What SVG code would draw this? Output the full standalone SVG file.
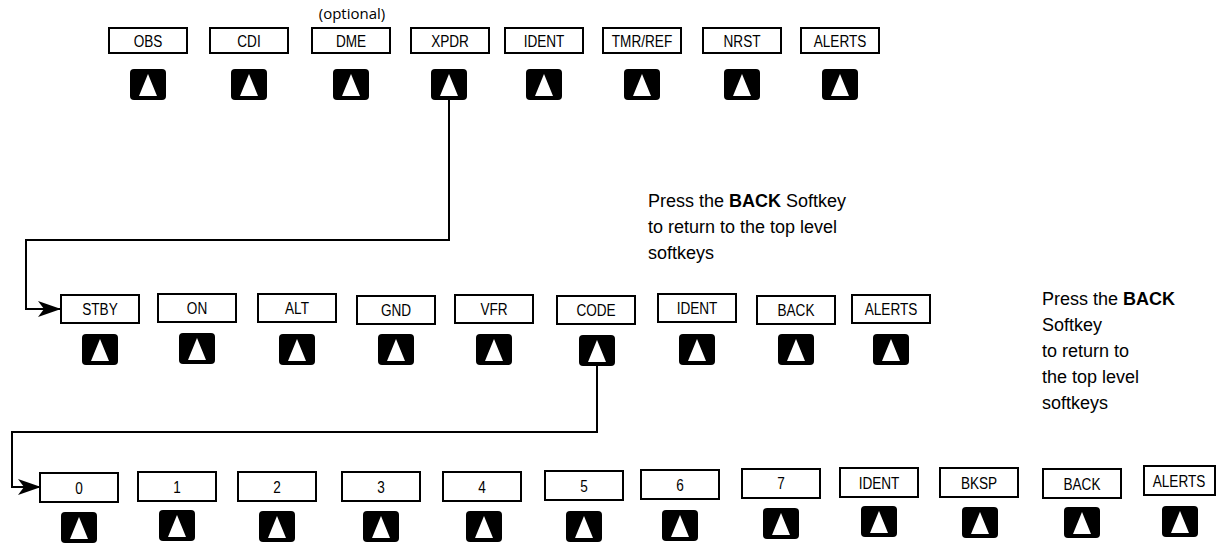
<svg xmlns="http://www.w3.org/2000/svg" xmlns:xlink="http://www.w3.org/1999/xlink" width="1217" height="546" viewBox="0 0 1217 546">
<style>
.box{fill:#fff;stroke:#000;stroke-width:2}
.lbl{font-family:"Liberation Sans",Arial,sans-serif;font-size:17px;text-anchor:middle;fill:#000}
.note{font-family:"Liberation Sans",Arial,sans-serif;font-size:18px;fill:#000}
.opt{font-family:"Open Sans",sans-serif;font-size:15px;text-anchor:middle;fill:#000}
.wire{fill:none;stroke:#000;stroke-width:2}
</style>
<defs>
<g id="key"><rect x="-18" y="0" width="36" height="31" rx="4" fill="#000"/><polygon points="0,5 -9,27 9,27" fill="#fff"/></g>
<marker id="arr" markerWidth="24" markerHeight="16" refX="22" refY="8" orient="auto" markerUnits="userSpaceOnUse"><path d="M0,0 L23,8 L0,16 L6,8 Z" fill="#000"/></marker>
</defs>
<rect width="1217" height="546" fill="#fff"/>
<g id="connectors">
<path class="wire" d="M449,100 V240 H26 V309 H60" marker-end="url(#arr)"/>
<path class="wire" d="M597,366 V432 H12 V487 H40" marker-end="url(#arr)"/>
</g>
<text class="opt" x="352" y="19">(optional)</text>
<g id="top-obs"><rect class="box" x="109" y="28" width="78" height="25"/><text class="lbl" transform="matrix(0.8 0 0 1 148 47)">OBS</text><use xlink:href="#key" x="148" y="69"/></g>
<g id="top-cdi"><rect class="box" x="210" y="28" width="78" height="25"/><text class="lbl" transform="matrix(0.8 0 0 1 249 47)">CDI</text><use xlink:href="#key" x="249" y="69"/></g>
<g id="top-dme"><rect class="box" x="312" y="28" width="78" height="25"/><text class="lbl" transform="matrix(0.8 0 0 1 351 47)">DME</text><use xlink:href="#key" x="351" y="69"/></g>
<g id="top-xpdr"><rect class="box" x="411" y="28" width="78" height="25"/><text class="lbl" transform="matrix(0.8 0 0 1 450 47)">XPDR</text><use xlink:href="#key" x="449" y="69"/></g>
<g id="top-ident"><rect class="box" x="505" y="28" width="78" height="25"/><text class="lbl" transform="matrix(0.8 0 0 1 544 47)">IDENT</text><use xlink:href="#key" x="544" y="69"/></g>
<g id="top-tmrref"><rect class="box" x="603" y="28" width="78" height="25"/><text class="lbl" transform="matrix(0.8 0 0 1 642 47)">TMR/REF</text><use xlink:href="#key" x="642" y="69"/></g>
<g id="top-nrst"><rect class="box" x="703" y="28" width="78" height="25"/><text class="lbl" transform="matrix(0.8 0 0 1 742 47)">NRST</text><use xlink:href="#key" x="742" y="69"/></g>
<g id="top-alerts"><rect class="box" x="801" y="28" width="78" height="25"/><text class="lbl" transform="matrix(0.8 0 0 1 840 47)">ALERTS</text><use xlink:href="#key" x="840" y="69"/></g>

<g id="mid-stby"><rect class="box" x="61" y="295" width="78" height="28"/><text class="lbl" transform="matrix(0.8 0 0 1 100 315)">STBY</text><use xlink:href="#key" x="100" y="334"/></g>
<g id="mid-on"><rect class="box" x="158" y="294" width="78" height="28"/><text class="lbl" transform="matrix(0.8 0 0 1 197 314)">ON</text><use xlink:href="#key" x="197" y="333"/></g>
<g id="mid-alt"><rect class="box" x="258" y="294" width="78" height="28"/><text class="lbl" transform="matrix(0.8 0 0 1 297 314)">ALT</text><use xlink:href="#key" x="297" y="334"/></g>
<g id="mid-gnd"><rect class="box" x="357" y="296" width="78" height="28"/><text class="lbl" transform="matrix(0.8 0 0 1 396 316)">GND</text><use xlink:href="#key" x="396" y="334"/></g>
<g id="mid-vfr"><rect class="box" x="455" y="295" width="78" height="28"/><text class="lbl" transform="matrix(0.8 0 0 1 494 315)">VFR</text><use xlink:href="#key" x="494" y="334"/></g>
<g id="mid-code"><rect class="box" x="557" y="296" width="78" height="28"/><text class="lbl" transform="matrix(0.8 0 0 1 596 316)">CODE</text><use xlink:href="#key" x="597" y="335"/></g>
<g id="mid-ident"><rect class="box" x="658" y="294" width="78" height="28"/><text class="lbl" transform="matrix(0.8 0 0 1 697 314)">IDENT</text><use xlink:href="#key" x="697" y="334"/></g>
<g id="mid-back"><rect class="box" x="757" y="296" width="78" height="28"/><text class="lbl" transform="matrix(0.8 0 0 1 796 316)">BACK</text><use xlink:href="#key" x="796" y="334"/></g>
<g id="mid-alerts"><rect class="box" x="852" y="295" width="78" height="28"/><text class="lbl" transform="matrix(0.8 0 0 1 891 315)">ALERTS</text><use xlink:href="#key" x="891" y="334"/></g>

<g id="bot-0"><rect class="box" x="40" y="473" width="78" height="29"/><text class="lbl" transform="matrix(0.8 0 0 1 79 494)">0</text><use xlink:href="#key" x="79" y="512"/></g>
<g id="bot-1"><rect class="box" x="138" y="472" width="78" height="29"/><text class="lbl" transform="matrix(0.8 0 0 1 177 493)">1</text><use xlink:href="#key" x="177" y="510"/></g>
<g id="bot-2"><rect class="box" x="238" y="472" width="78" height="29"/><text class="lbl" transform="matrix(0.8 0 0 1 277 493)">2</text><use xlink:href="#key" x="277" y="511"/></g>
<g id="bot-3"><rect class="box" x="342" y="472" width="78" height="29"/><text class="lbl" transform="matrix(0.8 0 0 1 381 493)">3</text><use xlink:href="#key" x="381" y="511"/></g>
<g id="bot-4"><rect class="box" x="443" y="472" width="78" height="29"/><text class="lbl" transform="matrix(0.8 0 0 1 482 493)">4</text><use xlink:href="#key" x="484" y="511"/></g>
<g id="bot-5"><rect class="box" x="545" y="471" width="78" height="29"/><text class="lbl" transform="matrix(0.8 0 0 1 584 492)">5</text><use xlink:href="#key" x="584" y="511"/></g>
<g id="bot-6"><rect class="box" x="641" y="470" width="78" height="29"/><text class="lbl" transform="matrix(0.8 0 0 1 680 491)">6</text><use xlink:href="#key" x="680" y="510"/></g>
<g id="bot-7"><rect class="box" x="742" y="469" width="78" height="29"/><text class="lbl" transform="matrix(0.8 0 0 1 781 489)">7</text><use xlink:href="#key" x="781" y="508"/></g>
<g id="bot-ident"><rect class="box" x="840" y="468" width="78" height="29"/><text class="lbl" transform="matrix(0.8 0 0 1 879 489)">IDENT</text><use xlink:href="#key" x="879" y="506"/></g>
<g id="bot-bksp"><rect class="box" x="940" y="468" width="78" height="29"/><text class="lbl" transform="matrix(0.8 0 0 1 979 489)">BKSP</text><use xlink:href="#key" x="980" y="507"/></g>
<g id="bot-back"><rect class="box" x="1043" y="469" width="78" height="29"/><text class="lbl" transform="matrix(0.8 0 0 1 1082 490)">BACK</text><use xlink:href="#key" x="1082" y="507"/></g>
<g id="bot-alerts"><rect class="box" x="1144" y="466" width="71" height="29"/><text class="lbl" transform="matrix(0.8 0 0 1 1179 487)">ALERTS</text><use xlink:href="#key" x="1180" y="506"/></g>

<g id="note-mid">
<text class="note" x="648" y="207">Press the <tspan font-weight="bold">BACK</tspan> Softkey</text>
<text class="note" x="648" y="233">to return to the top level</text>
<text class="note" x="648" y="259">softkeys</text>
</g>
<g id="note-right">
<text class="note" x="1042" y="305">Press the <tspan font-weight="bold">BACK</tspan></text>
<text class="note" x="1042" y="331">Softkey</text>
<text class="note" x="1042" y="357">to return to</text>
<text class="note" x="1042" y="383">the top level</text>
<text class="note" x="1042" y="409">softkeys</text>
</g>
</svg>
